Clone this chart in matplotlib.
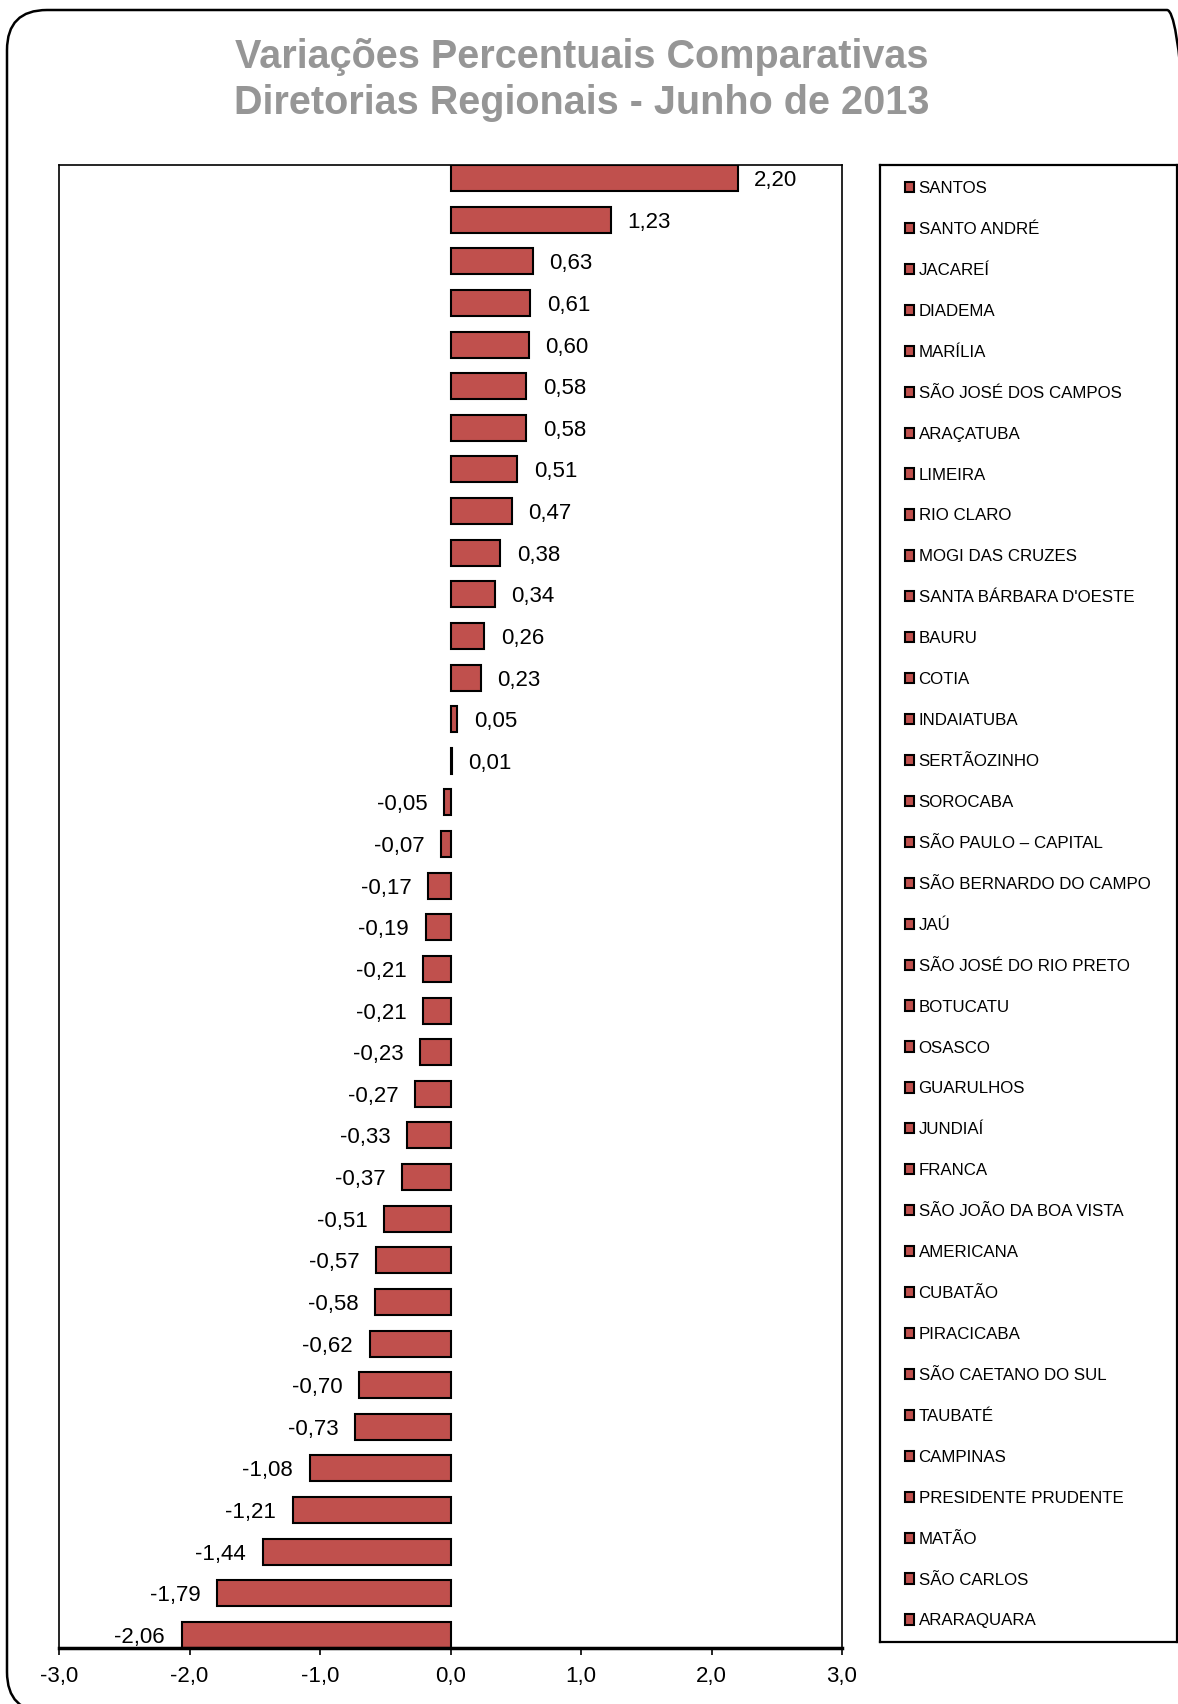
import matplotlib
matplotlib.use("Agg")
import matplotlib.pyplot as plt
from matplotlib.patches import FancyBboxPatch
from matplotlib.transforms import IdentityTransform

plt.rcParams['font.family'] = ['Liberation Sans', 'DejaVu Sans']

# data
regionais = ['SANTOS', 'SANTO ANDRÉ', 'JACAREÍ', 'DIADEMA', 'MARÍLIA',
             'SÃO JOSÉ DOS CAMPOS', 'ARAÇATUBA', 'LIMEIRA', 'RIO CLARO',
             'MOGI DAS CRUZES', "SANTA BÁRBARA D'OESTE", 'BAURU', 'COTIA',
             'INDAIATUBA', 'SERTÃOZINHO', 'SOROCABA', 'SÃO PAULO – CAPITAL',
             'SÃO BERNARDO DO CAMPO', 'JAÚ', 'SÃO JOSÉ DO RIO PRETO',
             'BOTUCATU', 'OSASCO', 'GUARULHOS', 'JUNDIAÍ', 'FRANCA',
             'SÃO JOÃO DA BOA VISTA', 'AMERICANA', 'CUBATÃO', 'PIRACICABA',
             'SÃO CAETANO DO SUL', 'TAUBATÉ', 'CAMPINAS',
             'PRESIDENTE PRUDENTE', 'MATÃO', 'SÃO CARLOS', 'ARARAQUARA']
variacao = [2.20, 1.23, 0.63, 0.61, 0.60, 0.58, 0.58, 0.51, 0.47, 0.38,
            0.34, 0.26, 0.23, 0.05, 0.01, -0.05, -0.07, -0.17, -0.19, -0.21,
            -0.21, -0.23, -0.27, -0.33, -0.37, -0.51, -0.57, -0.58, -0.62,
            -0.70, -0.73, -1.08, -1.21, -1.44, -1.79, -2.06]
xticks = [-3, -2, -1, 0, 1, 2, 3]

W, H = 1178, 1704
fig = plt.figure(figsize=(W / 100, H / 100), dpi=100)

# rounded outer frame (runs past the right and bottom edges of the image)
frame = FancyBboxPatch((7, -8), 1200, 1702,
                       boxstyle='round,pad=0,rounding_size=40',
                       transform=IdentityTransform(), facecolor='none',
                       edgecolor='black', lw=1.8, zorder=5)
fig.patches.append(frame)

fig.text(582 / W, 1 - 57 / H, 'Variações Percentuais Comparativas',
         ha='center', va='center', fontsize=28.5, fontweight='bold', color='#969696')
fig.text(582 / W, 1 - 103 / H, 'Diretorias Regionais - Junho de 2013',
         ha='center', va='center', fontsize=28.5, fontweight='bold', color='#969696')

ax = fig.add_axes([59 / W, 1 - 1648 / H, (842 - 59) / W, (1648 - 165) / H])
h = 0.625
pos = list(range(len(variacao)))
bars = ax.barh(pos, variacao, height=h, color='#C0504D', edgecolor='black', lw=1.5)
ax.set_ylim(len(variacao) - 1 + h / 2, -h / 2)
ax.set_xlim(-3, 3)
ax.set_xticks(xticks)
ax.set_xticklabels([f'{t:.1f}'.replace('.', ',') for t in xticks], fontsize=16)
ax.set_yticks([])
ax.tick_params(axis='x', direction='out', length=5, width=1.2, pad=8)
for s in ['left', 'top', 'right']:
    ax.spines[s].set_linewidth(1.2)
ax.spines['bottom'].set_linewidth(2.5)
rotulos = ax.bar_label(bars, labels=[f'{v:.2f}'.replace('.', ',') for v in variacao],
                       padding=12, fontsize=16)
for t in rotulos:
    t.set_va('center_baseline')

# legend box
lax = fig.add_axes([880 / W, 1 - 1642 / H, (1177 - 880) / W, (1642 - 165) / H])
lax.set_xticks([])
lax.set_yticks([])
for s in lax.spines.values():
    s.set_linewidth(1.6)
lax.legend(list(bars), regionais, loc='upper left', bbox_to_anchor=(0.03, 1.0),
           frameon=False, fontsize=12.2, handlelength=0.55, handleheight=0.55,
           handletextpad=0.25, labelspacing=1.53, borderaxespad=0.55)

fig.savefig('out.png', dpi=100)
